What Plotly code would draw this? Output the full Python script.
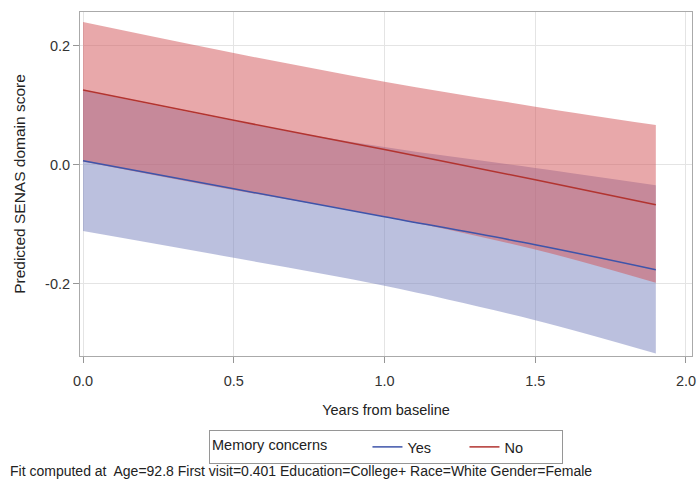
import plotly.graph_objects as go

years = [0.0, 0.5, 1.0, 1.5, 1.9]

yes_pred = [0.007, -0.040, -0.087, -0.134, -0.176]
yes_upper = [0.125, 0.074, 0.030, -0.005, -0.034]
yes_lower = [-0.111, -0.156, -0.203, -0.261, -0.317]

no_pred = [0.126, 0.075, 0.026, -0.025, -0.067]
no_upper = [0.240, 0.188, 0.140, 0.098, 0.067]
no_lower = [0.006, -0.042, -0.087, -0.142, -0.198]

x_ticks = [0.0, 0.5, 1.0, 1.5, 2.0]
y_ticks = [-0.2, 0.0, 0.2]

fig = go.Figure()

def band(lower, upper, color):
    fig.add_trace(go.Scatter(x=years, y=lower, mode="lines", line=dict(width=0, shape="spline"),
                             showlegend=False, hoverinfo="skip"))
    fig.add_trace(go.Scatter(x=years, y=upper, mode="lines", line=dict(width=0, shape="spline"),
                             fill="tonexty", fillcolor=color, showlegend=False,
                             hoverinfo="skip"))

band(yes_lower, yes_upper, "rgba(119,129,189,0.5)")
band(no_lower, no_upper, "rgba(209,81,85,0.5)")

fig.add_trace(go.Scatter(x=years, y=yes_pred, mode="lines", name="Yes",
                         line=dict(color="rgb(62,84,170)", width=1.5, shape="spline")))
fig.add_trace(go.Scatter(x=years, y=no_pred, mode="lines", name="No",
                         line=dict(color="rgb(178,52,48)", width=1.5, shape="spline")))

axis_common = dict(showline=True, linecolor="rgb(170,170,170)", linewidth=1, mirror=True,
                   showgrid=True, gridcolor="rgb(228,228,228)", gridwidth=1,
                   ticks="outside", tickcolor="rgb(150,150,150)", ticklen=6,
                   zeroline=False, automargin=False, tickfont=dict(size=14.5, color="#333"))

fig.update_xaxes(range=[-0.01, 2.02], tickvals=x_ticks,
                 ticktext=[f"{v:.1f}" for v in x_ticks], ticklabelstandoff=6,
                 title=dict(text="Years from baseline", font=dict(size=14.5, color="#222"), standoff=16),
                 **axis_common)
fig.update_yaxes(range=[-0.321, 0.257], tickvals=y_ticks,
                 ticktext=[f"{v:.1f}" for v in y_ticks],
                 title=dict(text="Predicted SENAS domain score", font=dict(size=15.5, color="#222"), standoff=15),
                 **axis_common)

fig.update_layout(
    width=699, height=488,
    margin=dict(l=80, r=7, t=12, b=132, autoexpand=False),
    paper_bgcolor="white", plot_bgcolor="white",
    font=dict(family="Liberation Sans, Arial, sans-serif", size=12, color="#222"),
    legend=dict(orientation="h", x=0.5, xanchor="center", y=-0.215, yanchor="top",
                bordercolor="rgb(150,150,150)", borderwidth=1, traceorder="normal",
                title=dict(text="Memory concerns        ", font=dict(size=14.5)),
                font=dict(size=14.5), tracegroupgap=0, entrywidth=52),
    annotations=[dict(text="Fit computed at  Age=92.8 First visit=0.401 Education=College+ Race=White Gender=Female",
                      xref="paper", yref="paper", x=-0.118, y=-0.305, xanchor="left", yanchor="top",
                      showarrow=False, font=dict(size=14, color="#222"))],
)

fig.write_html("out.html", config={"displayModeBar": False},
               post_script="document.body.style.margin='0px';")
